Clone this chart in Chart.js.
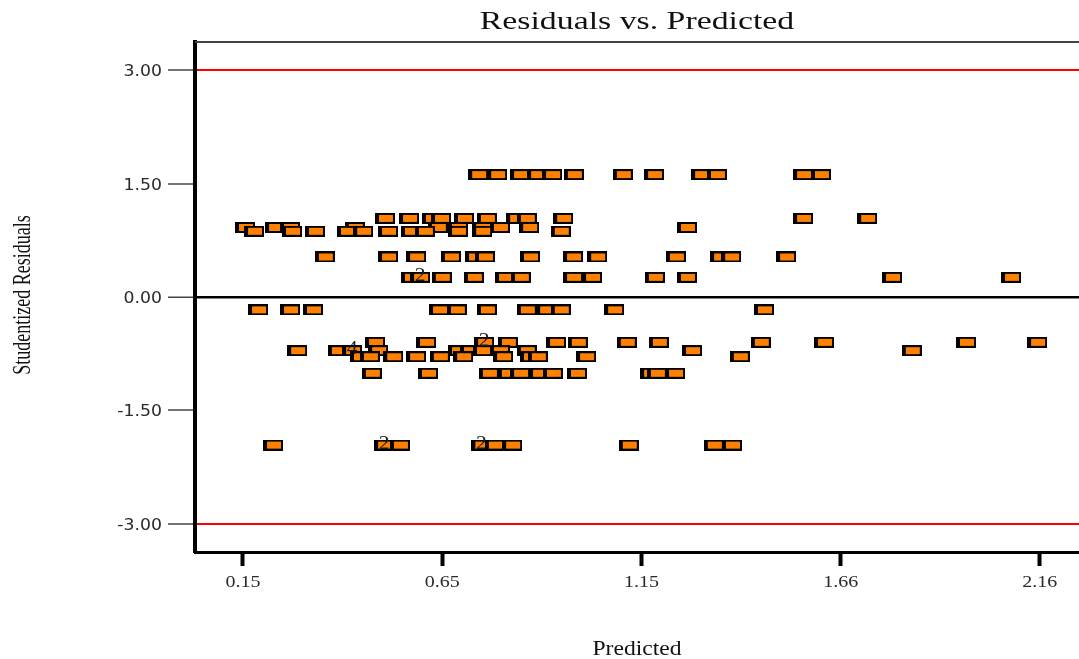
<!DOCTYPE html>
<html>
<head>
<meta charset="utf-8">
<title>Residuals vs. Predicted</title>
<script src="https://cdn.jsdelivr.net/npm/chart.js@4.4.1/dist/chart.umd.min.js"></script>
<style>
  html, body { margin: 0; padding: 0; background: #ffffff; }
  #wrap { width: 1079px; height: 659px; position: relative; }
</style>
</head>
<body>
<div id="wrap"><canvas id="chart" width="1079" height="659"></canvas></div>
<script>
// Predicted values (x) and studentized residuals (y), listed residual level by residual level
const predicted = [
  0.742, 0.790, 0.848, 0.891, 0.929, 0.984, 1.108, 1.187, 1.306, 1.346, 1.564, 1.609,
  0.506, 0.567, 0.625, 0.648, 0.706, 0.764, 0.838, 0.865, 0.957, 1.564, 1.726,
  0.152, 0.228, 0.266, 0.430, 0.640, 0.691, 0.752, 0.797, 0.871, 1.270,
  0.175, 0.271, 0.329, 0.410, 0.451, 0.514, 0.572, 0.607, 0.691, 0.752, 0.951,
  0.354, 0.514, 0.585, 0.673, 0.734, 0.759, 0.873, 0.982, 1.043, 1.242, 1.354, 1.382, 1.521,
  0.572, 0.595, 0.595, 0.650, 0.731, 0.810, 0.850, 0.982, 1.030, 1.189, 1.270, 1.789, 2.090,
  0.185, 0.266, 0.324, 0.643, 0.688, 0.764, 0.865, 0.914, 0.951, 1.086, 1.465,
  0.481, 0.610, 0.757, 0.757, 0.817, 0.939, 0.994, 1.118, 1.199, 1.457, 1.617, 1.976, 2.156,
  0.284, 0.387, 0.423, 0.423, 0.423, 0.423, 0.489, 0.691, 0.721, 0.754, 0.797, 0.865, 1.283, 1.839,
  0.443, 0.468, 0.527, 0.585, 0.645, 0.704, 0.805, 0.873, 0.893, 1.015, 1.404,
  0.473, 0.615, 0.769, 0.817, 0.848, 0.896, 0.931, 0.992, 1.177, 1.194, 1.240,
  0.223, 0.504, 0.504, 0.544, 0.750, 0.750, 0.784, 0.828, 1.123, 1.338, 1.384
];
const residuals = [
  1.62, 1.62, 1.62, 1.62, 1.62, 1.62, 1.62, 1.62, 1.62, 1.62, 1.62, 1.62,
  1.04, 1.04, 1.04, 1.04, 1.04, 1.04, 1.04, 1.04, 1.04, 1.04, 1.04,
  0.92, 0.92, 0.92, 0.92, 0.92, 0.92, 0.92, 0.92, 0.92, 0.92,
  0.87, 0.87, 0.87, 0.87, 0.87, 0.87, 0.87, 0.87, 0.87, 0.87, 0.87,
  0.53, 0.53, 0.53, 0.53, 0.53, 0.53, 0.53, 0.53, 0.53, 0.53, 0.53, 0.53, 0.53,
  0.26, 0.26, 0.26, 0.26, 0.26, 0.26, 0.26, 0.26, 0.26, 0.26, 0.26, 0.26, 0.26,
  -0.17, -0.17, -0.17, -0.17, -0.17, -0.17, -0.17, -0.17, -0.17, -0.17, -0.17,
  -0.60, -0.60, -0.60, -0.60, -0.60, -0.60, -0.60, -0.60, -0.60, -0.60, -0.60, -0.60, -0.60,
  -0.71, -0.71, -0.71, -0.71, -0.71, -0.71, -0.71, -0.71, -0.71, -0.71, -0.71, -0.71, -0.71, -0.71,
  -0.79, -0.79, -0.79, -0.79, -0.79, -0.79, -0.79, -0.79, -0.79, -0.79, -0.79,
  -1.01, -1.01, -1.01, -1.01, -1.01, -1.01, -1.01, -1.01, -1.01, -1.01, -1.01,
  -1.96, -1.96, -1.96, -1.96, -1.96, -1.96, -1.96, -1.96, -1.96, -1.96, -1.96
];

// Number of coincident runs marked next to stacked points
const countText = ['2', '2', '4', '2', '2'];
const countX = [0.595, 0.757, 0.423, 0.504, 0.750];
const countY = [0.26, -0.60, -0.71, -1.96, -1.96];

// Axis ticks
const xTickValues = [0.147, 0.651, 1.155, 1.659, 2.163];
const xTickLabels = ['0.15', '0.65', '1.15', '1.66', '2.16'];
const yTickValues = [-3, -1.5, 0, 1.5, 3];
const yTickLabels = ['-3.00', '-1.50', '0.00', '1.50', '3.00'];
const limitValues = [-3, 3];

const titleText = 'Residuals vs. Predicted';
const xTitle = 'Predicted';
const yTitle = 'Studentized Residuals';

// Orange box marker with a heavy black outline
function makeMarker() {
  const c = document.createElement('canvas');
  c.width = 20; c.height = 11;
  const g = c.getContext('2d');
  g.fillStyle = '#000000';
  g.fillRect(0, 0, 20, 11);
  g.fillStyle = '#ff8000';
  g.fillRect(4, 2, 14, 7);
  return c;
}

function drawText(ctx, text, x, y, font, sx, align, color) {
  ctx.save();
  ctx.font = font;
  ctx.fillStyle = color;
  ctx.textAlign = align;
  ctx.textBaseline = 'alphabetic';
  ctx.translate(x, y);
  ctx.scale(sx, 1);
  ctx.fillText(text, 0, 0);
  ctx.restore();
}

const textLayer = {
  id: 'textLayer',
  afterDraw(chart) {
    const ctx = chart.ctx;
    const a = chart.chartArea;
    const xs = chart.scales.x;
    const ys = chart.scales.y;

    // top frame line
    ctx.save();
    ctx.strokeStyle = '#444444';
    ctx.lineWidth = 2;
    ctx.beginPath();
    ctx.moveTo(a.left, a.top);
    ctx.lineTo(a.right, a.top);
    ctx.stroke();
    ctx.restore();

    drawText(ctx, titleText, (a.left + a.right) / 2, 28.5, '26px "Liberation Serif"', 1.3, 'center', '#111111');

    yTickValues.forEach((v, i) => {
      drawText(ctx, yTickLabels[i], 162, ys.getPixelForValue(v) + 6, '15px "DejaVu Sans"', 1.15, 'right', '#2a2a2a');
    });
    xTickValues.forEach((v, i) => {
      drawText(ctx, xTickLabels[i], xs.getPixelForValue(v), 587, '16px "Liberation Serif"', 1.25, 'center', '#2a2a2a');
    });

    drawText(ctx, xTitle, (a.left + a.right) / 2, 655, '20px "Liberation Serif"', 1.18, 'center', '#111111');

    ctx.save();
    ctx.font = '18px "Liberation Serif"';
    ctx.fillStyle = '#111111';
    ctx.textAlign = 'center';
    ctx.textBaseline = 'alphabetic';
    ctx.translate(30, (a.top + a.bottom) / 2 - 2);
    ctx.rotate(-Math.PI / 2);
    ctx.scale(1, 1.43);
    ctx.fillText(yTitle, 0, 0);
    ctx.restore();

    countText.forEach((t, i) => {
      const px = xs.getPixelForValue(countX[i]);
      const py = ys.getPixelForValue(countY[i]);
      drawText(ctx, t, px, py + 3.5, '18px "Liberation Serif"', 1.2, 'center', '#1a1a1a');
    });
  }
};

const points = predicted.map((x, i) => ({ x: x, y: residuals[i] }));

new Chart(document.getElementById('chart'), {
  type: 'scatter',
  data: {
    datasets: [{
      data: points,
      pointStyle: makeMarker(),
      pointRadius: 6,
      pointHoverRadius: 6
    }]
  },
  options: {
    responsive: false,
    animation: false,
    events: [],
    layout: { autoPadding: false, padding: { top: 42, left: 0, right: 0, bottom: 0 } },
    plugins: {
      legend: { display: false },
      tooltip: { enabled: false },
      title: { display: false }
    },
    scales: {
      x: {
        type: 'linear',
        min: 0.0256,
        max: 2.262,
        afterBuildTicks: (s) => { s.ticks = xTickValues.map(v => ({ value: v })); },
        afterFit: (s) => { s.height = 107; },
        ticks: { display: false },
        grid: {
          display: true,
          drawOnChartArea: false,
          drawTicks: true,
          tickLength: 14,
          tickWidth: 4,
          tickColor: '#000000'
        },
        border: { display: true, width: 3, color: '#000000' }
      },
      y: {
        type: 'linear',
        min: -3.375,
        max: 3.375,
        afterBuildTicks: (s) => { s.ticks = yTickValues.map(v => ({ value: v })); },
        afterFit: (s) => { s.width = 195; },
        ticks: { display: false },
        grid: {
          display: true,
          drawOnChartArea: true,
          drawTicks: true,
          tickLength: 27,
          tickWidth: 1.5,
          tickColor: '#444444',
          color: (c) => {
            const v = c.tick ? c.tick.value : null;
            if (limitValues.includes(v)) return '#ff0000';
            if (v === 0) return '#000000';
            return 'rgba(0,0,0,0)';
          },
          lineWidth: (c) => (c.tick && c.tick.value === 0 ? 2.5 : 2)
        },
        border: { display: true, width: 4, color: '#000000' }
      }
    }
  },
  plugins: [textLayer]
});
</script>
</body>
</html>
